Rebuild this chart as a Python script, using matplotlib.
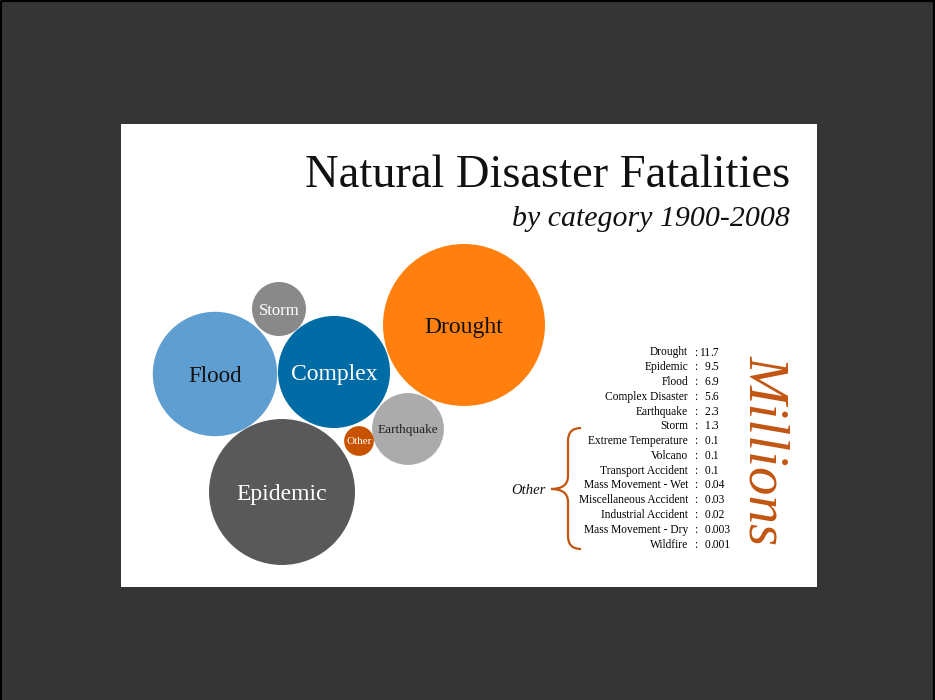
import numpy as np
import matplotlib
matplotlib.use("Agg")
import matplotlib.pyplot as plt
from matplotlib.patches import Circle, Rectangle, PathPatch
from matplotlib.path import Path

# Fatalities by disaster category, 1900-2008 (millions)
categories = ["Drought", "Epidemic", "Flood", "Complex Disaster", "Earthquake", "Storm",
              "Extreme Temperature", "Volcano", "Transport Accident", "Mass Movement - Wet",
              "Miscellaneous Accident", "Industrial Accident", "Mass Movement - Dry", "Wildfire"]
values = [11.7, 9.5, 6.9, 5.6, 2.3, 1.3, 0.1, 0.1, 0.1, 0.04, 0.03, 0.02, 0.003, 0.001]

# bubbles: the six big categories plus everything else lumped as "Other"
bubble_labels = ["Drought", "Epidemic", "Flood", "Complex", "Earthquake", "Storm", "Other"]
bubble_values = values[:6] + [sum(values[6:])]
bubble_colors = ["#FF800E", "#595959", "#5F9ED1", "#006BA4", "#ABABAB", "#898989", "#C85200"]
label_colors = ["#111111", "white", "#111111", "white", "#222222", "white", "white"]
label_sizes = [17, 17, 16.5, 17, 9.5, 12, 8]
centers = [(464, 325), (282, 492), (215, 374), (334, 372), (408, 429), (279, 309), (359, 441)]

SERIF = "Liberation Serif"
ORANGE = "#C25511"

fig = plt.figure(figsize=(9.35, 7), dpi=100, facecolor="#353535")
ax = fig.add_axes([0, 0, 1, 1])
ax.set_xlim(0, 935)
ax.set_ylim(700, 0)
ax.axis("off")

# frame and white card
ax.add_patch(Rectangle((1, 1), 933, 720, fill=False, edgecolor="black", lw=1.6))
ax.add_patch(Rectangle((121, 124), 696, 463, facecolor="white", edgecolor="none"))

# area-proportional bubbles
scale = 81 / np.sqrt(max(bubble_values))
for lab, v, c, tc, fs, (cx, cy) in zip(bubble_labels, bubble_values, bubble_colors,
                                        label_colors, label_sizes, centers):
    ax.add_patch(Circle((cx, cy), scale * np.sqrt(v), facecolor=c, edgecolor="none"))
    ax.text(cx, cy, lab, color=tc, fontsize=fs, family=SERIF,
            ha="center", va="center_baseline")

# titles
ax.text(790, 187, "Natural Disaster Fatalities", family=SERIF, fontsize=33.5,
        ha="right", va="baseline", color="#111111")
ax.text(790, 226, "by category 1900-2008", family=SERIF, style="italic", fontsize=21.5,
        ha="right", va="baseline", color="#111111")

# value table, decimal points lined up
y0, dy = 351, 14.77
for i, (name, v) in enumerate(zip(categories, values)):
    y = y0 + i * dy
    ax.text(688, y, name, family=SERIF, fontsize=8.3, ha="right", va="center_baseline")
    ax.text(696, y, ":", family=SERIF, fontsize=8.3, ha="center", va="center_baseline")
    whole, frac = str(v).split(".")
    ax.text(710, y, whole, family=SERIF, fontsize=8.3, ha="right", va="center_baseline")
    ax.text(710, y, "." + frac, family=SERIF, fontsize=8.3, ha="left", va="center_baseline")

# brace grouping the small categories
verts = [(581, 428), (568, 428), (568, 441), (568, 476), (568, 489), (551, 489),
         (568, 489), (568, 502), (568, 536), (568, 549), (581, 549)]
codes = [Path.MOVETO, Path.CURVE3, Path.CURVE3, Path.LINETO, Path.CURVE3, Path.CURVE3,
         Path.CURVE3, Path.CURVE3, Path.LINETO, Path.CURVE3, Path.CURVE3]
ax.add_patch(PathPatch(Path(verts, codes), fill=False, edgecolor=ORANGE, lw=1.6))
ax.text(546, 489, "Other", family=SERIF, style="italic", fontsize=10.5,
        ha="right", va="center_baseline", color="#111111")

ax.text(764, 450, "Millions", family=SERIF, style="italic", fontsize=41, color=ORANGE,
        rotation=-90, rotation_mode="anchor", ha="center", va="center")

fig.savefig("out.png", dpi=100, facecolor=fig.get_facecolor())
